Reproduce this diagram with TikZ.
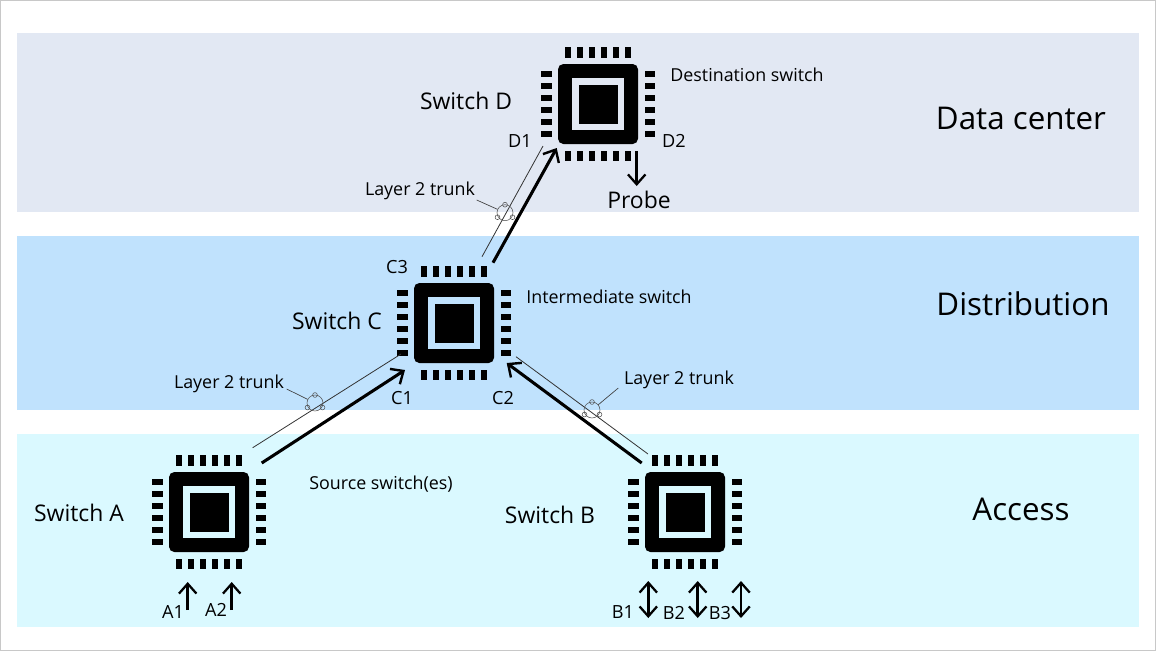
\documentclass[tikz,border=0pt]{standalone}
\usepackage{fontspec}
\setmainfont{Open Sans}
\usetikzlibrary{arrows.meta}
\definecolor{datacenter}{HTML}{E2E8F3}
\definecolor{distribution}{HTML}{C0E2FD}
\definecolor{access}{HTML}{DAF9FF}
\definecolor{frameline}{HTML}{C8C8C8}
\definecolor{ringline}{HTML}{505050}
\tikzset{x=0.75pt,y=-0.75pt,band/.style={minimum width=841.5pt,inner sep=0pt,outer sep=0pt},chipbody/.style={fill=black,rounded corners=4pt,minimum size=60pt,inner sep=0pt},chipgap/.style={minimum size=38.5pt,inner sep=0pt},chipcore/.style={fill=black,minimum size=29.25pt,inner sep=0pt},bigarrow/.style={-{Straight Barb[length=2.7mm,width=4.8mm,line width=1.8pt]},line width=2.3pt},portarrow/.style={-{Straight Barb[length=2.6mm,width=4.6mm,line width=1.7pt]},line width=2pt},bothports/.style={{Straight Barb[length=2.6mm,width=4.6mm,line width=1.7pt]}-{Straight Barb[length=2.6mm,width=4.6mm,line width=1.7pt]},line width=2pt},trunk/.style={draw=black!80,line width=0.6pt},ring/.style={draw=ringline,circle,line width=0.4pt,minimum size=12pt,inner sep=0pt},ringdot/.style={draw=ringline,circle,line width=0.4pt,minimum size=3.6pt,inner sep=0pt},leader/.style={draw=black!75,line width=0.5pt},tier/.style={font=\fontsize{23.5}{26}\selectfont},swname/.style={font=\fontsize{17.2}{19}\selectfont},note/.style={font=\fontsize{13.4}{15}\selectfont},port/.style={font=\fontsize{13.6}{15}\selectfont},probelab/.style={font=\fontsize{17.2}{19}\selectfont}}
\newcommand{\chipat}[4]{\node[chipbody] (#1) at (#2,#3) {};\node[chipgap,fill=#4] (#1gap) at (#1) {};\node[chipcore] (#1core) at (#1) {};
\begin{scope}[shift={(#2,#3)}]\foreach \p in {-30,-18,...,30}{\fill (\p-3,-57) rectangle (\p+3,-46.5);\fill (\p-3,46.5) rectangle (\p+3,57);\fill (-57,\p-3) rectangle (-46.5,\p+3);\fill (46.5,\p-3) rectangle (57,\p+3);}\end{scope}}
\newcommand{\ringat}[3]{\node[ring] (#1) at (#2,#3) {};\node[ringdot] (#1a) at (#2,#3-8) {};\node[ringdot] (#1b) at (#2-7.5,#3+4.5) {};\node[ringdot] (#1c) at (#2+7.5,#3+4.5) {};}
\begin{document}
\begin{tikzpicture}
\useasboundingbox (0,0) rectangle (1156,651);
\draw[frameline,line width=0.75pt] (0.5,0.5) rectangle (1155.5,650.5);
\node[band,fill=datacenter,minimum height=134.25pt] (dcband) at (578,122.5) {};
\node[band,fill=distribution,minimum height=130.5pt] (distband) at (578,323) {};
\node[band,fill=access,minimum height=144.75pt] (accband) at (578,530.5) {};
\chipat{swD}{598}{104}{datacenter}
\chipat{swC}{454}{323}{distribution}
\chipat{swA}{209}{512}{access}
\chipat{swB}{685}{512}{access}
\node[tier] (dctier) at (1021,118) {Data center};
\node[tier] (disttier) at (1023,304) {Distribution};
\node[tier] (acctier) at (1021,509) {Access};
\node[swname] (nameD) at (466,101) {Switch D};
\node[swname] (nameC) at (337,321) {Switch C};
\node[swname] (nameA) at (79,513) {Switch A};
\node[swname] (nameB) at (550,515) {Switch B};
\node[note] (noteD) at (747,75) {Destination switch};
\node[note] (noteC) at (609,297) {Intermediate switch};
\node[note] (noteA) at (381,484) {Source switch(es)};
\node[port] (D1) at (520,141) {D1};
\node[port] (D2) at (674,141) {D2};
\node[port] (C3) at (397,267) {C3};
\node[port] (C1) at (402,398) {C1};
\node[port] (C2) at (503,398) {C2};
\node[port] (A1) at (173,612) {A1};
\node[port] (A2) at (216,610) {A2};
\node[port] (B1) at (623,612) {B1};
\node[port] (B2) at (674,613) {B2};
\node[port] (B3) at (720,613) {B3};
\node[probelab] (probe) at (639,200) {Probe};
\node[note] (trunkD) at (420,191) {Layer 2 trunk};
\node[note] (trunkA) at (229,384) {Layer 2 trunk};
\node[note] (trunkB) at (679,380) {Layer 2 trunk};
\coordinate (thickAs) at (261.7,463);\coordinate (thickAe) at (405,370);
\coordinate (thinAs) at (252.7,447.7);\coordinate (thinAe) at (401,354);
\coordinate (thickBs) at (641.7,463);\coordinate (thickBe) at (506.7,363);
\coordinate (thinBs) at (648,454);\coordinate (thinBe) at (516,356.7);
\coordinate (thickDs) at (493,262.7);\coordinate (thickDe) at (556.7,148);
\coordinate (thinDs) at (482,256.7);\coordinate (thinDe) at (543,146);
\coordinate (probes) at (636.7,151);\coordinate (probee) at (636.7,186);
\coordinate (portA1s) at (187.7,610);\coordinate (portA1e) at (187.7,582);
\coordinate (portA2s) at (231.7,610);\coordinate (portA2e) at (231.7,582);
\coordinate (portB1s) at (648.3,618);\coordinate (portB1e) at (648.3,581);
\coordinate (portB2s) at (697.7,618);\coordinate (portB2e) at (697.7,581);
\coordinate (portB3s) at (741,618);\coordinate (portB3e) at (741,581);
\draw[trunk](thinAs)--(thinAe);\draw[trunk](thinBs)--(thinBe);\draw[trunk](thinDs)--(thinDe);
\draw[bigarrow](thickAs)--(thickAe);\draw[bigarrow](thickBs)--(thickBe);\draw[bigarrow](thickDs)--(thickDe);
\draw[portarrow](probes)--(probee);
\draw[portarrow](portA1s)--(portA1e);\draw[portarrow](portA2s)--(portA2e);
\draw[bothports](portB1s)--(portB1e);\draw[bothports](portB2s)--(portB2e);\draw[bothports](portB3s)--(portB3e);
\ringat{ringA}{315}{403}
\ringat{ringB}{592}{410}
\ringat{ringD}{505}{212.7}
\coordinate (leadA) at (286.7,389);\coordinate (leadB) at (618.3,388);\coordinate (leadD) at (476.7,200);
\draw[leader](leadA)--(ringA);\draw[leader](leadB)--(ringB);\draw[leader](leadD)--(ringD);
\end{tikzpicture}
\end{document}
